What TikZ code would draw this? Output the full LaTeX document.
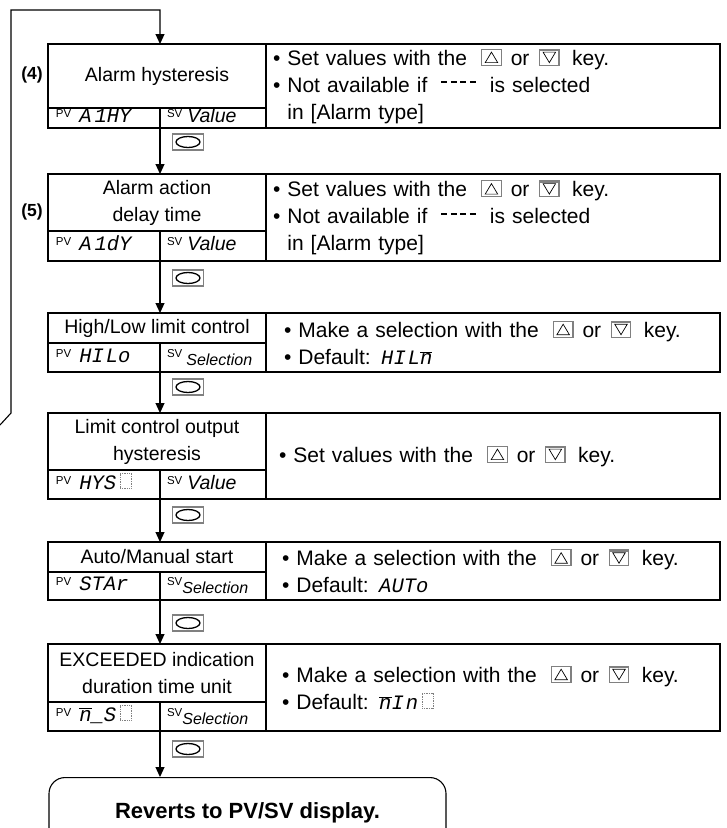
\documentclass[tikz,border=0pt]{standalone}
\usepackage{fontspec}
\setmainfont{Liberation Sans}
\newfontfamily\segfont{Liberation Mono}
\usetikzlibrary{arrows.meta}

\newcommand\seg[1]{{\fontsize{20.5}{27}\segfont\itshape #1}}
\newcommand\segm{\ensuremath{\overline{\hbox{n}}}}
\newcommand\blankdigit{\,\tikz[baseline=-1pt,x=1pt,y=1pt]\draw[gray,densely dotted,line width=0.7pt] (0,0) rectangle (11,15);}
\newcommand\upkey{\tikz[baseline=-2.5pt,x=1pt,y=1pt]{\draw[gray,line width=1.2pt] (0,-2.5) rectangle (19.5,13.5);\draw[line width=0.7pt] (3.5,0) -- (16,0) -- (9.75,10.5) -- cycle;}}
\newcommand\downkey{\tikz[baseline=-2.5pt,x=1pt,y=1pt]{\draw[gray,line width=1.2pt] (0,-2.5) rectangle (19.5,13.5);\draw[gray,line width=2.2pt] (0,12.5) -- (19.5,12.5);\draw[line width=0.7pt] (3.5,10.5) -- (16,10.5) -- (9.75,0) -- cycle;}}
\newcommand\dashes{\raisebox{9pt}{\rule{6pt}{2pt}\hspace{3.5pt}\rule{6pt}{2pt}\hspace{3.5pt}\rule{6pt}{2pt}\hspace{3.5pt}\rule{6pt}{2pt}}}
\newcommand\pv[1]{\raisebox{5pt}{\fontsize{11.5}{12}\selectfont PV}\hspace{8pt}\seg{#1}}
\newcommand\sv[1]{\raisebox{5pt}{\fontsize{11.5}{12}\selectfont SV}\hspace{5pt}\textit{#1}}
\newcommand\svsel[1][0pt]{\raisebox{5pt}{\fontsize{11.5}{12}\selectfont SV}\hspace{#1}\raisebox{-3pt}{\fontsize{16}{16}\selectfont\itshape Selection}}
\newcommand\keys{\hspace{14pt}\upkey\hspace{9pt}or\hspace{9pt}\downkey\hspace{12pt}key.}

\begin{document}
\begin{tikzpicture}[
    x=1pt, y=-1pt,
    every node/.style={font=\fontsize{19.5}{27}\selectfont},
    cell/.style={draw, line width=1.1pt, anchor=north west, inner sep=0pt, outer sep=0pt},
    title/.style={cell, minimum width=218pt, align=center},
    pvcell/.style={cell, minimum width=112pt, text width=96pt, inner xsep=8pt, align=left, text height=12pt, text depth=3pt},
    svcell/.style={cell, minimum width=106pt, text width=92pt, inner xsep=7pt, align=left, text height=12pt, text depth=3pt},
    desc/.style={cell, minimum width=454pt, text width=454pt-2*#1, inner xsep=#1, align=left, font=\fontsize{21}{27}\selectfont},
    desc/.default=7pt,
    modekey/.style={draw=gray, line width=1.5pt, minimum width=31pt, minimum height=16pt, inner sep=0pt},
    flow/.style={line width=1.1pt, -{Triangle[width=9pt,length=10pt]}},
    stepno/.style={font=\fontsize{17.5}{20}\selectfont\bfseries},
    endbox/.style={draw, line width=1.1pt, rounded corners=16pt, minimum width=397pt, minimum height=70pt, anchor=north, font=\fontsize{22}{24}\selectfont\bfseries},
]
\useasboundingbox (0,0) rectangle (727,828);

\node[title, minimum height=64pt] (t1) at (48,44) {Alarm hysteresis};
\node[pvcell, minimum height=20pt] (pv1) at (t1.south west) {\pv{A\kern3pt 1HY}};
\node[svcell, minimum height=20pt] (sv1) at (pv1.north east) {\sv{Value}};
\node[desc, minimum height=84pt] (d1) at (t1.north east) {\textbullet\ Set values with the\keys\\
    \textbullet\ Not available if\hspace{14pt}\dashes\hspace{14pt}is selected\\
    \phantom{\textbullet\ }in [Alarm type]};
\node[stepno] (n4) at (32,75) {(4)};

\node[title, minimum height=57pt] (t2) at (48,174) {Alarm action\\delay time};
\node[pvcell, minimum height=30pt] (pv2) at (t2.south west) {\pv{A\kern3pt 1dY}};
\node[svcell, minimum height=30pt] (sv2) at (pv2.north east) {\sv{Value}};
\node[desc, minimum height=87pt] (d2) at (t2.north east) {\textbullet\ Set values with the\keys\\
    \textbullet\ Not available if\hspace{14pt}\dashes\hspace{14pt}is selected\\
    \phantom{\textbullet\ }in [Alarm type]};
\node[stepno] (n5) at (32,212) {(5)};

\node[title, minimum height=30pt] (t3) at (48,313) {High/Low limit control};
\node[pvcell, minimum height=29pt] (pv3) at (t3.south west) {\pv{HI\kern2pt Lo}};
\node[svcell, minimum height=29pt] (sv3) at (pv3.north east) {\svsel[4pt]};
\node[desc=18pt, minimum height=59pt] (d3) at (t3.north east) {\textbullet\ Make a selection with the\keys\\
    \textbullet\ Default: \seg{HI\kern2pt L\segm}};

\node[title, minimum height=57pt] (t4) at (48,413) {Limit control output\\hysteresis};
\node[pvcell, minimum height=29pt] (pv4) at (t4.south west) {\pv{HYS\blankdigit}};
\node[svcell, minimum height=29pt] (sv4) at (pv4.north east) {\sv{Value}};
\node[desc=13pt, minimum height=86pt] (d4) at (t4.north east) {\textbullet\ Set values with the\keys};

\node[title, minimum height=30pt] (t5) at (48,542) {Auto/Manual start};
\node[pvcell, minimum height=28pt] (pv5) at (t5.south west) {\pv{STAr}};
\node[svcell, minimum height=28pt] (sv5) at (pv5.north east) {\svsel};
\node[desc=16pt, minimum height=58pt] (d5) at (t5.north east) {\textbullet\ Make a selection with the\keys\\
    \textbullet\ Default: \seg{AUTo}};

\node[title, minimum height=58pt] (t6) at (48,644) {EXCEEDED indication\\duration time unit};
\node[pvcell, minimum height=29pt] (pv6) at (t6.south west) {\pv{\segm\_S\blankdigit}};
\node[svcell, minimum height=29pt] (sv6) at (pv6.north east) {\svsel};
\node[desc=16pt, minimum height=87pt] (d6) at (t6.north east) {\textbullet\ Make a selection with the\keys\\
    \textbullet\ Default: \seg{\segm I\kern2pt n\blankdigit}};

\node[endbox] (rev) at (247.5,777) {Reverts to PV/SV display.};

\foreach \k/\y in {k1/142, k2/278, k3/387, k4/515, k5/623, k6/749}
{
    \node[modekey] (\k) at (188,\y) {};
    \draw[line width=1.3pt] (\k) ellipse (12 and 5.5);
}

\foreach \a/\b in {1/2, 2/3, 3/4, 4/5, 5/6}
    \draw[flow] (pv\a.south east) -- (pv\a.south east |- t\b.north);
\draw[flow] (pv6.south east) -- (pv6.south east |- rev.north);

\coordinate (loopin) at (0,425);
\coordinate (loopbend) at (11,413);
\coordinate (looptop) at (11,10);
\draw[flow] (loopin) -- (loopbend) -- (looptop) -| (t1.north -| pv1.north east);
\end{tikzpicture}
\end{document}
